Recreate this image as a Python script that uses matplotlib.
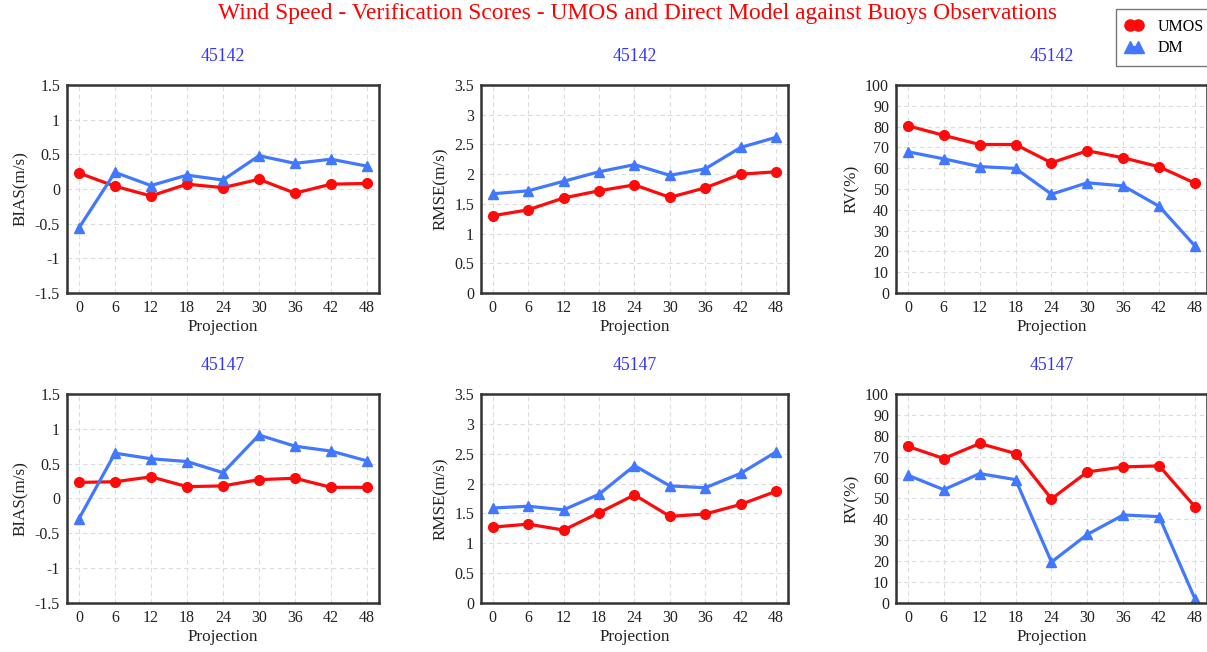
import matplotlib
matplotlib.use('Agg')
import matplotlib.pyplot as plt

# Projection hours
proj = [0, 6, 12, 18, 24, 30, 36, 42, 48]

# Station 45142
bias_umos_45142 = [0.23, 0.04, -0.10, 0.07, 0.02, 0.14, -0.06, 0.07, 0.08]
bias_dm_45142 = [-0.56, 0.24, 0.05, 0.20, 0.13, 0.48, 0.37, 0.43, 0.33]
rmse_umos_45142 = [1.30, 1.40, 1.60, 1.72, 1.82, 1.61, 1.77, 2.00, 2.04]
rmse_dm_45142 = [1.67, 1.72, 1.88, 2.04, 2.16, 1.98, 2.09, 2.45, 2.62]
rv_umos_45142 = [80.4, 75.8, 71.4, 71.4, 62.6, 68.4, 65.0, 60.7, 52.8]
rv_dm_45142 = [67.9, 64.5, 60.8, 59.9, 47.5, 53.0, 51.5, 41.7, 22.6]

# Station 45147
bias_umos_45147 = [0.23, 0.24, 0.31, 0.17, 0.18, 0.27, 0.29, 0.16, 0.16]
bias_dm_45147 = [-0.29, 0.65, 0.57, 0.53, 0.37, 0.91, 0.75, 0.68, 0.54]
rmse_umos_45147 = [1.27, 1.32, 1.22, 1.51, 1.81, 1.45, 1.49, 1.65, 1.87]
rmse_dm_45147 = [1.59, 1.62, 1.56, 1.82, 2.30, 1.96, 1.93, 2.17, 2.53]
rv_umos_45147 = [74.9, 69.1, 76.3, 71.5, 49.8, 62.7, 65.1, 65.6, 46.0]
rv_dm_45147 = [61.1, 54.2, 61.9, 59.0, 19.6, 32.8, 42.1, 41.3, 1.9]

red = '#ff0a0a'
blue = '#4178ff'
plt.rcParams['font.family'] = ['Liberation Serif', 'DejaVu Serif']

fig = plt.figure(figsize=(12.07, 6.52), dpi=100)

lefts = [0.0555, 0.3985, 0.7423]
widths = [0.2585, 0.2543, 0.2577]
bottoms = [0.5506, 0.0752]
heights = [0.319, 0.3206]

panels = [
    [('45142', bias_umos_45142, bias_dm_45142, 'BIAS(m/s)', (-1.5, 1.5), 0.5),
     ('45142', rmse_umos_45142, rmse_dm_45142, 'RMSE(m/s)', (0, 3.5), 0.5),
     ('45142', rv_umos_45142, rv_dm_45142, 'RV(%)', (0, 100), 10)],
    [('45147', bias_umos_45147, bias_dm_45147, 'BIAS(m/s)', (-1.5, 1.5), 0.5),
     ('45147', rmse_umos_45147, rmse_dm_45147, 'RMSE(m/s)', (0, 3.5), 0.5),
     ('45147', rv_umos_45147, rv_dm_45147, 'RV(%)', (0, 100), 10)],
]

for r, row in enumerate(panels):
    for c, (station, umos, dm, ylab, ylim, step) in enumerate(row):
        ax = fig.add_axes([lefts[c], bottoms[r], widths[c], heights[r]])
        ax.plot(proj, umos, color=red, lw=2.3, marker='o', ms=7, label='UMOS')
        ax.plot(proj, dm, color=blue, lw=2.3, marker='^', ms=7.5, label='DM')
        ax.set_xlim(-2, 50)
        ax.set_ylim(*ylim)
        ax.set_xticks(proj)
        n = int(round((ylim[1] - ylim[0]) / step))
        yt = [ylim[0] + i * step for i in range(n + 1)]
        ax.set_yticks(yt)
        ax.set_yticklabels(['%g' % v for v in yt])
        ax.grid(True, ls=(0, (4, 3)), color='#dcdcdc', lw=0.8)
        ax.set_axisbelow(True)
        ax.tick_params(length=0, labelsize=11.5, colors='#222222', pad=5)
        for s in ax.spines.values():
            s.set_color('#333333')
            s.set_linewidth(1.8)
        ax.set_xlabel('Projection', fontsize=12.3, color='#222222', labelpad=2)
        ax.set_ylabel(ylab, fontsize=12.3, color='#222222', labelpad=4)
        ax.set_title(station, color='#3333ff', fontsize=12.7, pad=17)

fig.suptitle('Wind Speed - Verification Scores - UMOS and Direct Model against Buoys Observations',
             color='#ff0000', fontsize=16.8, x=0.528, y=0.995, va='top')

handles, labels = ax.get_legend_handles_labels()
fig.legend(handles, labels, loc='upper left', bbox_to_anchor=(0.918, 0.998),
           numpoints=2, handlelength=1.1, handletextpad=0.9, fontsize=11.5,
           markerscale=1.15, frameon=True, fancybox=False, edgecolor='#555555',
           borderpad=0.6, labelspacing=0.35)

fig.savefig('out.png', dpi=100, facecolor='white')
